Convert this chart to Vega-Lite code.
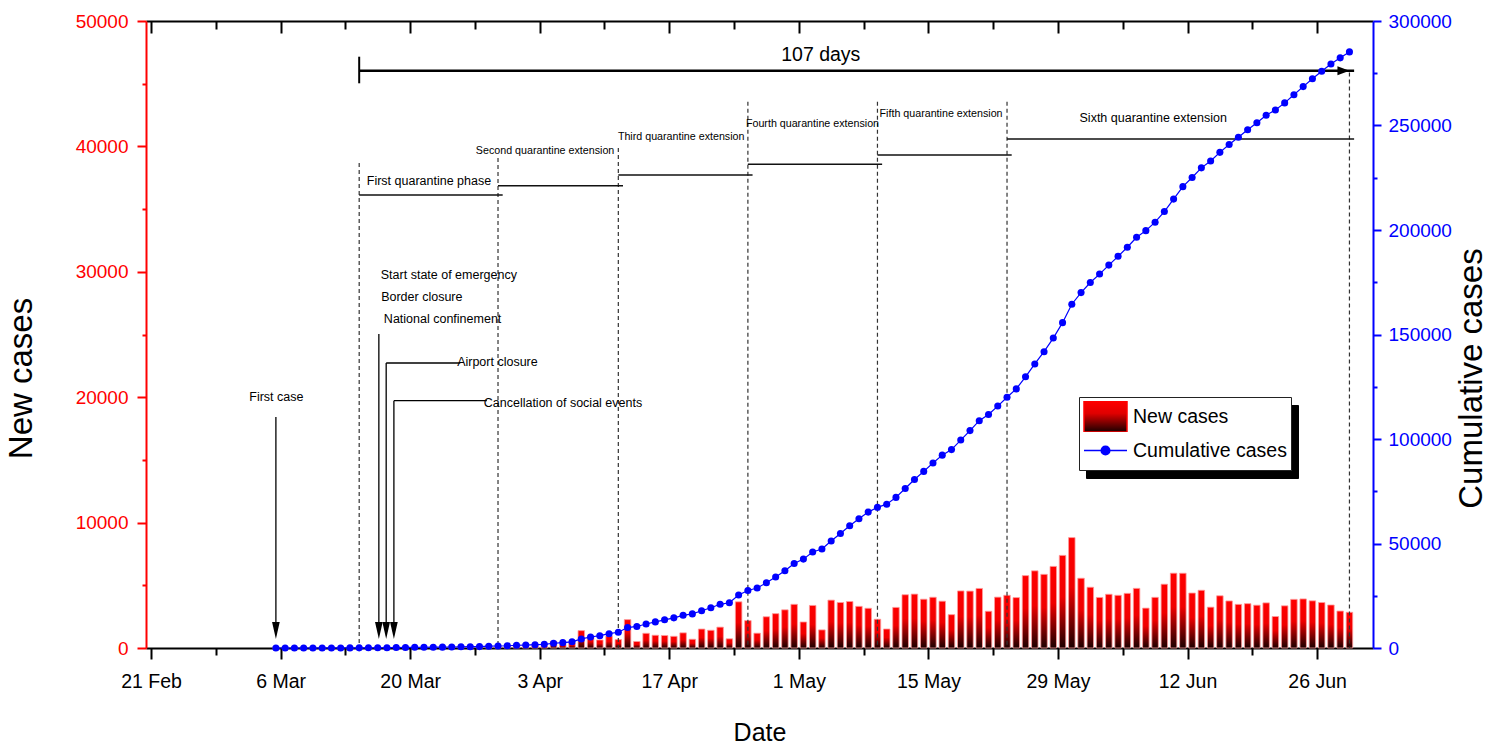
{
  "$schema": "https://vega.github.io/schema/vega-lite/v6.json",
  "width": 1227,
  "height": 627,
  "autosize": {"type": "none"},
  "padding": {"left": 146, "top": 21, "right": 114, "bottom": 101},
  "background": "white",
  "config": {
    "view": {"stroke": null},
    "font": "Liberation Sans, Arial, sans-serif",
    "axis": {"grid": false, "labelOverlap": false, "labelFlush": false, "zindex": 1, "labelFont": "Liberation Sans, Arial, sans-serif"},
    "legend": {"labelFont": "Liberation Sans, Arial, sans-serif", "labelFontSize": 19.5, "labelColor": "black", "labelLimit": 0}
  },
  "datasets": {
    "covid": [
      {"date":"2020-03-06T00:00","new":1,"cum":1},
      {"date":"2020-03-07T00:00","new":5,"cum":6},
      {"date":"2020-03-08T00:00","new":1,"cum":7},
      {"date":"2020-03-09T00:00","new":2,"cum":9},
      {"date":"2020-03-10T00:00","new":2,"cum":11},
      {"date":"2020-03-11T00:00","new":6,"cum":17},
      {"date":"2020-03-12T00:00","new":5,"cum":22},
      {"date":"2020-03-13T00:00","new":16,"cum":38},
      {"date":"2020-03-14T00:00","new":5,"cum":43},
      {"date":"2020-03-15T00:00","new":28,"cum":71},
      {"date":"2020-03-16T00:00","new":15,"cum":86},
      {"date":"2020-03-17T00:00","new":31,"cum":117},
      {"date":"2020-03-18T00:00","new":28,"cum":145},
      {"date":"2020-03-19T00:00","new":89,"cum":234},
      {"date":"2020-03-20T00:00","new":29,"cum":263},
      {"date":"2020-03-21T00:00","new":55,"cum":318},
      {"date":"2020-03-22T00:00","new":45,"cum":363},
      {"date":"2020-03-23T00:00","new":32,"cum":395},
      {"date":"2020-03-24T00:00","new":21,"cum":416},
      {"date":"2020-03-25T00:00","new":64,"cum":480},
      {"date":"2020-03-26T00:00","new":100,"cum":580},
      {"date":"2020-03-27T00:00","new":55,"cum":635},
      {"date":"2020-03-28T00:00","new":36,"cum":671},
      {"date":"2020-03-29T00:00","new":181,"cum":852},
      {"date":"2020-03-30T00:00","new":98,"cum":950},
      {"date":"2020-03-31T00:00","new":115,"cum":1065},
      {"date":"2020-04-01T00:00","new":258,"cum":1323},
      {"date":"2020-04-02T00:00","new":91,"cum":1414},
      {"date":"2020-04-03T00:00","new":181,"cum":1595},
      {"date":"2020-04-04T00:00","new":151,"cum":1746},
      {"date":"2020-04-05T00:00","new":535,"cum":2281},
      {"date":"2020-04-06T00:00","new":280,"cum":2561},
      {"date":"2020-04-07T00:00","new":393,"cum":2954},
      {"date":"2020-04-08T00:00","new":1388,"cum":4342},
      {"date":"2020-04-09T00:00","new":914,"cum":5256},
      {"date":"2020-04-10T00:00","new":641,"cum":5897},
      {"date":"2020-04-11T00:00","new":951,"cum":6848},
      {"date":"2020-04-12T00:00","new":671,"cum":7519},
      {"date":"2020-04-13T00:00","new":2265,"cum":9784},
      {"date":"2020-04-14T00:00","new":519,"cum":10303},
      {"date":"2020-04-15T00:00","new":1172,"cum":11475},
      {"date":"2020-04-16T00:00","new":1016,"cum":12491},
      {"date":"2020-04-17T00:00","new":998,"cum":13489},
      {"date":"2020-04-18T00:00","new":931,"cum":14420},
      {"date":"2020-04-19T00:00","new":1208,"cum":15628},
      {"date":"2020-04-20T00:00","new":697,"cum":16325},
      {"date":"2020-04-21T00:00","new":1512,"cum":17837},
      {"date":"2020-04-22T00:00","new":1413,"cum":19250},
      {"date":"2020-04-23T00:00","new":1664,"cum":20914},
      {"date":"2020-04-24T00:00","new":734,"cum":21648},
      {"date":"2020-04-25T00:00","new":3683,"cum":25331},
      {"date":"2020-04-26T00:00","new":2186,"cum":27517},
      {"date":"2020-04-27T00:00","new":1182,"cum":28699},
      {"date":"2020-04-28T00:00","new":2491,"cum":31190},
      {"date":"2020-04-29T00:00","new":2741,"cum":33931},
      {"date":"2020-04-30T00:00","new":3045,"cum":36976},
      {"date":"2020-05-01T00:00","new":3483,"cum":40459},
      {"date":"2020-05-02T00:00","new":2075,"cum":42534},
      {"date":"2020-05-03T00:00","new":3394,"cum":45928},
      {"date":"2020-05-04T00:00","new":1444,"cum":47372},
      {"date":"2020-05-05T00:00","new":3817,"cum":51189},
      {"date":"2020-05-06T00:00","new":3628,"cum":54817},
      {"date":"2020-05-07T00:00","new":3709,"cum":58526},
      {"date":"2020-05-08T00:00","new":3321,"cum":61847},
      {"date":"2020-05-09T00:00","new":3168,"cum":65015},
      {"date":"2020-05-10T00:00","new":2292,"cum":67307},
      {"date":"2020-05-11T00:00","new":1515,"cum":68822},
      {"date":"2020-05-12T00:00","new":3237,"cum":72059},
      {"date":"2020-05-13T00:00","new":4247,"cum":76306},
      {"date":"2020-05-14T00:00","new":4298,"cum":80604},
      {"date":"2020-05-15T00:00","new":3891,"cum":84495},
      {"date":"2020-05-16T00:00","new":4046,"cum":88541},
      {"date":"2020-05-17T00:00","new":3732,"cum":92273},
      {"date":"2020-05-18T00:00","new":2660,"cum":94933},
      {"date":"2020-05-19T00:00","new":4550,"cum":99483},
      {"date":"2020-05-20T00:00","new":4537,"cum":104020},
      {"date":"2020-05-21T00:00","new":4749,"cum":108769},
      {"date":"2020-05-22T00:00","new":2929,"cum":111698},
      {"date":"2020-05-23T00:00","new":4056,"cum":115754},
      {"date":"2020-05-24T00:00","new":4205,"cum":119959},
      {"date":"2020-05-25T00:00","new":4020,"cum":123979},
      {"date":"2020-05-26T00:00","new":5772,"cum":129751},
      {"date":"2020-05-27T00:00","new":6154,"cum":135905},
      {"date":"2020-05-28T00:00","new":5874,"cum":141779},
      {"date":"2020-05-29T00:00","new":6506,"cum":148285},
      {"date":"2020-05-30T00:00","new":7386,"cum":155671},
      {"date":"2020-05-31T00:00","new":8805,"cum":164476},
      {"date":"2020-06-01T00:00","new":5563,"cum":170039},
      {"date":"2020-06-02T00:00","new":4845,"cum":174884},
      {"date":"2020-06-03T00:00","new":4030,"cum":178914},
      {"date":"2020-06-04T00:00","new":4284,"cum":183198},
      {"date":"2020-06-05T00:00","new":4202,"cum":187400},
      {"date":"2020-06-06T00:00","new":4358,"cum":191758},
      {"date":"2020-06-07T00:00","new":4757,"cum":196515},
      {"date":"2020-06-08T00:00","new":3181,"cum":199696},
      {"date":"2020-06-09T00:00","new":4040,"cum":203736},
      {"date":"2020-06-10T00:00","new":5087,"cum":208823},
      {"date":"2020-06-11T00:00","new":5965,"cum":214788},
      {"date":"2020-06-12T00:00","new":5961,"cum":220749},
      {"date":"2020-06-13T00:00","new":4383,"cum":225132},
      {"date":"2020-06-14T00:00","new":4604,"cum":229736},
      {"date":"2020-06-15T00:00","new":3256,"cum":232992},
      {"date":"2020-06-16T00:00","new":4164,"cum":237156},
      {"date":"2020-06-17T00:00","new":3752,"cum":240908},
      {"date":"2020-06-18T00:00","new":3480,"cum":244388},
      {"date":"2020-06-19T00:00","new":3537,"cum":247925},
      {"date":"2020-06-20T00:00","new":3413,"cum":251338},
      {"date":"2020-06-21T00:00","new":3598,"cum":254936},
      {"date":"2020-06-22T00:00","new":2511,"cum":257447},
      {"date":"2020-06-23T00:00","new":3363,"cum":260810},
      {"date":"2020-06-24T00:00","new":3879,"cum":264689},
      {"date":"2020-06-25T00:00","new":3913,"cum":268602},
      {"date":"2020-06-26T00:00","new":3762,"cum":272364},
      {"date":"2020-06-27T00:00","new":3625,"cum":275989},
      {"date":"2020-06-28T00:00","new":3430,"cum":279419},
      {"date":"2020-06-29T00:00","new":2946,"cum":282365},
      {"date":"2020-06-30T00:00","new":2848,"cum":285213}
    ],
    "qlines": [
      {"d":"2020-03-15T00:00","top":38676},
      {"d":"2020-03-30T00:00","top":39075},
      {"d":"2020-04-12T00:00","top":39872},
      {"d":"2020-04-26T00:00","top":43565},
      {"d":"2020-05-10T00:00","top":43565},
      {"d":"2020-05-24T00:00","top":43565},
      {"d":"2020-06-30T00:00","top":45900}
    ],
    "phases": [
      {"start":"2020-03-15T00:00","end":"2020-03-30T00:00","y":36124},
      {"start":"2020-03-30T00:00","end":"2020-04-12T00:00","y":36866},
      {"start":"2020-04-12T00:00","end":"2020-04-26T00:00","y":37719},
      {"start":"2020-04-26T00:00","end":"2020-05-10T00:00","y":38573},
      {"start":"2020-05-10T00:00","end":"2020-05-24T00:00","y":39314},
      {"start":"2020-05-24T00:00","end":"2020-06-30T00:00","y":40590}
    ],
    "plabelsA": [
      {"d":"2020-03-22T13:00","y":37241,"label":"First quarantine phase"},
      {"d":"2020-06-08T19:00","y":42265,"label":"Sixth quarantine extension"}
    ],
    "plabelsB": [
      {"d":"2020-04-04T02:00","y":39657,"label":"Second quarantine extension"},
      {"d":"2020-04-18T19:00","y":40774,"label":"Third quarantine extension"},
      {"d":"2020-05-02T23:30","y":41786,"label":"Fourth quarantine extension"},
      {"d":"2020-05-16T21:00","y":42584,"label":"Fifth quarantine extension"}
    ],
    "arrows": [
      {"d":"2020-03-06T00:00","top":18421},
      {"d":"2020-03-17T03:00","top":25040},
      {"d":"2020-03-17T22:00","top":22727},
      {"d":"2020-03-18T18:00","top":19721}
    ],
    "connectors": [
      {"d":"2020-03-17T22:00","end":"2020-03-25T10:00","y":22727},
      {"d":"2020-03-18T18:00","end":"2020-03-28T07:00","y":19721}
    ],
    "elabels": [
      {"d":"2020-03-03T03:00","y":20016,"label":"First case"},
      {"d":"2020-03-17T08:00","y":29745,"label":"Start state of emergency"},
      {"d":"2020-03-17T09:00","y":28015,"label":"Border closure"},
      {"d":"2020-03-17T16:00","y":26236,"label":"National confinement"},
      {"d":"2020-03-25T14:00","y":22807,"label":"Airport closure"},
      {"d":"2020-03-28T11:00","y":19538,"label":"Cancellation of social events"}
    ],
    "span": [
      {"start":"2020-03-15T00:00","end":"2020-06-30T00:00","y":46037,"ylo":45032,"yhi":47153}
    ],
    "spanlabel": [
      {"d":"2020-05-03T21:00","y":47289,"label":"107 days"}
    ]
  },
  "layer": [
    {
      "resolve": {"axis": {"x": "independent", "y": "independent"}},
      "layer": [
        {
          "data": {"name": "covid"},
          "mark": {"type": "bar", "size": 6.5, "xOffset": -4.67,
            "fill": {"gradient": "linear", "x1": 0, "y1": 0, "x2": 0, "y2": 1,
              "stops": [{"offset": 0, "color": "#ff0000"}, {"offset": 0.45, "color": "#f00000"}, {"offset": 1, "color": "#1a0000"}]},
            "stroke": "#ff9a9a", "strokeWidth": 0.8},
          "encoding": {
            "x": {"field": "date", "type": "temporal",
              "scale": {"domain": [{"year":2020,"month":2,"date":21},{"year":2020,"month":7,"date":1,"hours":12}]},
              "axis": {"orient": "bottom",
                "values": [{"year":2020,"month":2,"date":21},{"year":2020,"month":3,"date":6},{"year":2020,"month":3,"date":20},{"year":2020,"month":4,"date":3},{"year":2020,"month":4,"date":17},{"year":2020,"month":5,"date":1},{"year":2020,"month":5,"date":15},{"year":2020,"month":5,"date":29},{"year":2020,"month":6,"date":12},{"year":2020,"month":6,"date":26}],
                "format": "%-d %b", "tickSize": 11, "tickWidth": 2, "tickColor": "black",
                "domainColor": "black", "domainWidth": 2,
                "labelFontSize": 19.5, "labelColor": "black", "labelPadding": 13,
                "title": "Date", "titleFont": "Liberation Sans, Arial, sans-serif", "titleFontSize": 25, "titleFontWeight": "normal", "titleColor": "black",
                "titleY": 92, "titleBaseline": "alphabetic"}},
            "y": {"field": "new", "type": "quantitative",
              "scale": {"domain": [0, 50000]},
              "axis": {"orient": "left", "values": [0, 10000, 20000, 30000, 40000, 50000], "format": "d",
                "tickSize": 9, "tickWidth": 2, "tickColor": "#ff0000",
                "domainColor": "#ff0000", "domainWidth": 2,
                "labelColor": "#ff0000", "labelFontSize": 19, "labelPadding": 9,
                "title": "New cases", "titleFont": "Liberation Sans, Arial, sans-serif", "titleFontSize": 33,
                "titleFontWeight": "normal", "titleColor": "black",
                "titleX": -125, "titleY": 357, "titleAngle": -90, "titleBaseline": "middle", "titleAlign": "center"}}
          }
        },
        {
          "data": {"name": "qlines"},
          "mark": {"type": "rule", "xOffset": -4.67, "strokeDash": [4, 3], "color": "#333333", "strokeWidth": 1.2},
          "encoding": {
            "x": {"field": "d", "type": "temporal",
              "scale": {"domain": [{"year":2020,"month":2,"date":21},{"year":2020,"month":7,"date":1,"hours":12}]},
              "axis": {"orient": "bottom",
                "values": [{"year":2020,"month":2,"date":28},{"year":2020,"month":3,"date":13},{"year":2020,"month":3,"date":27},{"year":2020,"month":4,"date":10},{"year":2020,"month":4,"date":24},{"year":2020,"month":5,"date":8},{"year":2020,"month":5,"date":22},{"year":2020,"month":6,"date":5},{"year":2020,"month":6,"date":19}],
                "tickSize": 7, "tickWidth": 2, "tickColor": "black", "labels": false, "domain": false, "title": null}},
            "y": {"field": "top", "type": "quantitative", "scale": {"domain": [0, 50000]},
              "axis": {"orient": "left", "values": [5000, 15000, 25000, 35000, 45000],
                "tickSize": 4, "tickWidth": 2, "tickColor": "#ff0000", "labels": false, "domain": false, "title": null}},
            "y2": {"datum": 0}
          }
        },
        {
          "data": {"name": "phases"},
          "mark": {"type": "rule", "xOffset": -4.67, "color": "#111111", "strokeWidth": 1.5},
          "encoding": {
            "x": {"field": "start", "type": "temporal",
              "scale": {"domain": [{"year":2020,"month":2,"date":21},{"year":2020,"month":7,"date":1,"hours":12}]},
              "axis": {"orient": "bottom", "offset": -627,
                "values": [{"year":2020,"month":2,"date":21},{"year":2020,"month":3,"date":6},{"year":2020,"month":3,"date":20},{"year":2020,"month":4,"date":3},{"year":2020,"month":4,"date":17},{"year":2020,"month":5,"date":1},{"year":2020,"month":5,"date":15},{"year":2020,"month":5,"date":29},{"year":2020,"month":6,"date":12},{"year":2020,"month":6,"date":26}],
                "tickSize": 12, "tickWidth": 2, "tickColor": "black", "labels": false,
                "domainColor": "black", "domainWidth": 2, "title": null}},
            "x2": {"field": "end"},
            "y": {"field": "y", "type": "quantitative", "scale": {"domain": [0, 50000]}, "axis": null}
          }
        },
        {
          "data": {"name": "plabelsA"},
          "mark": {"type": "text", "xOffset": -4.67, "fontSize": 12.5, "align": "center", "baseline": "middle", "color": "black"},
          "encoding": {
            "x": {"field": "d", "type": "temporal",
              "scale": {"domain": [{"year":2020,"month":2,"date":21},{"year":2020,"month":7,"date":1,"hours":12}]},
              "axis": {"orient": "bottom", "offset": -627,
                "values": [{"year":2020,"month":2,"date":28},{"year":2020,"month":3,"date":13},{"year":2020,"month":3,"date":27},{"year":2020,"month":4,"date":10},{"year":2020,"month":4,"date":24},{"year":2020,"month":5,"date":8},{"year":2020,"month":5,"date":22},{"year":2020,"month":6,"date":5},{"year":2020,"month":6,"date":19}],
                "tickSize": 8, "tickWidth": 2, "tickColor": "black", "labels": false, "domain": false, "title": null}},
            "y": {"field": "y", "type": "quantitative", "scale": {"domain": [0, 50000]}, "axis": null},
            "text": {"field": "label"}
          }
        },
        {
          "data": {"name": "plabelsB"},
          "mark": {"type": "text", "xOffset": -4.67, "fontSize": 10.7, "align": "center", "baseline": "middle", "color": "black"},
          "encoding": {
            "x": {"field": "d", "type": "temporal", "scale": {"domain": [{"year":2020,"month":2,"date":21},{"year":2020,"month":7,"date":1,"hours":12}]}, "axis": null},
            "y": {"field": "y", "type": "quantitative", "scale": {"domain": [0, 50000]}, "axis": null},
            "text": {"field": "label"}
          }
        },
        {
          "data": {"name": "arrows"},
          "mark": {"type": "rule", "xOffset": -4.67, "color": "black", "strokeWidth": 1.3},
          "encoding": {
            "x": {"field": "d", "type": "temporal", "scale": {"domain": [{"year":2020,"month":2,"date":21},{"year":2020,"month":7,"date":1,"hours":12}]}, "axis": null},
            "y": {"field": "top", "type": "quantitative", "scale": {"domain": [0, 50000]}, "axis": null},
            "y2": {"datum": 1396}
          }
        },
        {
          "data": {"name": "arrows"},
          "mark": {"type": "point", "xOffset": -4.67, "shape": "M-0.45,-1L0.45,-1L0,1Z", "size": 289, "filled": true, "color": "black", "opacity": 1},
          "encoding": {
            "x": {"field": "d", "type": "temporal", "scale": {"domain": [{"year":2020,"month":2,"date":21},{"year":2020,"month":7,"date":1,"hours":12}]}, "axis": null},
            "y": {"datum": 1396, "type": "quantitative", "scale": {"domain": [0, 50000]}, "axis": null}
          }
        },
        {
          "data": {"name": "connectors"},
          "mark": {"type": "rule", "xOffset": -4.67, "color": "black", "strokeWidth": 1.3},
          "encoding": {
            "x": {"field": "d", "type": "temporal", "scale": {"domain": [{"year":2020,"month":2,"date":21},{"year":2020,"month":7,"date":1,"hours":12}]}, "axis": null},
            "x2": {"field": "end"},
            "y": {"field": "y", "type": "quantitative", "scale": {"domain": [0, 50000]}, "axis": null}
          }
        },
        {
          "data": {"name": "elabels"},
          "mark": {"type": "text", "xOffset": -4.67, "fontSize": 12.5, "align": "left", "baseline": "middle", "color": "black"},
          "encoding": {
            "x": {"field": "d", "type": "temporal", "scale": {"domain": [{"year":2020,"month":2,"date":21},{"year":2020,"month":7,"date":1,"hours":12}]}, "axis": null},
            "y": {"field": "y", "type": "quantitative", "scale": {"domain": [0, 50000]}, "axis": null},
            "text": {"field": "label"}
          }
        },
        {
          "data": {"name": "span"},
          "mark": {"type": "rule", "xOffset": -4.67, "color": "black", "strokeWidth": 2.5},
          "encoding": {
            "x": {"field": "start", "type": "temporal", "scale": {"domain": [{"year":2020,"month":2,"date":21},{"year":2020,"month":7,"date":1,"hours":12}]}, "axis": null},
            "x2": {"field": "end"},
            "y": {"field": "y", "type": "quantitative", "scale": {"domain": [0, 50000]}, "axis": null}
          }
        },
        {
          "data": {"name": "span"},
          "mark": {"type": "rule", "xOffset": -4.67, "color": "black", "strokeWidth": 2},
          "encoding": {
            "x": {"field": "start", "type": "temporal", "scale": {"domain": [{"year":2020,"month":2,"date":21},{"year":2020,"month":7,"date":1,"hours":12}]}, "axis": null},
            "y": {"field": "ylo", "type": "quantitative", "scale": {"domain": [0, 50000]}, "axis": null},
            "y2": {"field": "yhi"}
          }
        },
        {
          "data": {"name": "span"},
          "mark": {"type": "point", "xOffset": -10.67, "shape": "M-1,-0.75L1,0L-1,0.75Z", "size": 144, "filled": true, "color": "black", "opacity": 1},
          "encoding": {
            "x": {"field": "end", "type": "temporal", "scale": {"domain": [{"year":2020,"month":2,"date":21},{"year":2020,"month":7,"date":1,"hours":12}]}, "axis": null},
            "y": {"field": "y", "type": "quantitative", "scale": {"domain": [0, 50000]}, "axis": null}
          }
        },
        {
          "data": {"name": "spanlabel"},
          "mark": {"type": "text", "xOffset": -4.67, "fontSize": 19.5, "align": "center", "baseline": "middle", "color": "black"},
          "encoding": {
            "x": {"field": "d", "type": "temporal", "scale": {"domain": [{"year":2020,"month":2,"date":21},{"year":2020,"month":7,"date":1,"hours":12}]}, "axis": null},
            "y": {"field": "y", "type": "quantitative", "scale": {"domain": [0, 50000]}, "axis": null},
            "text": {"field": "label"}
          }
        }
      ]
    },
    {
      "resolve": {"axis": {"y": "independent"}},
      "layer": [
        {
          "data": {"name": "covid"},
          "mark": {"type": "line", "xOffset": -4.67, "strokeWidth": 1.2},
          "encoding": {
            "x": {"field": "date", "type": "temporal", "scale": {"domain": [{"year":2020,"month":2,"date":21},{"year":2020,"month":7,"date":1,"hours":12}]}, "axis": null},
            "y": {"field": "cum", "type": "quantitative", "scale": {"domain": [0, 300000]},
              "axis": {"orient": "right", "values": [0, 50000, 100000, 150000, 200000, 250000, 300000], "format": "d",
                "tickSize": 8, "tickWidth": 2, "tickColor": "#0000ff",
                "domainColor": "#0000ff", "domainWidth": 2,
                "labelColor": "#0000ff", "labelFontSize": 19, "labelPadding": 7,
                "title": "Cumulative cases", "titleFont": "Liberation Sans, Arial, sans-serif", "titleFontSize": 33,
                "titleFontWeight": "normal", "titleColor": "black",
                "titleX": 98, "titleY": 357, "titleAngle": 270, "titleBaseline": "middle", "titleAlign": "center"}},
            "color": {"datum": "Cumulative cases",
              "scale": {"domain": ["New cases", "Cumulative cases"], "range": ["#ff0000", "#0000ff"]},
              "legend": {"title": null, "orient": "none", "legendX": 933, "legendY": 376, "zindex": 2,
                "symbolSize": 1849, "clipHeight": 31, "symbolStrokeWidth": 1.5, "labelOffset": 5, "padding": 4, "rowPadding": 3,
                "strokeColor": "#222222", "fillColor": "white",
                "encoding": {
                  "symbols": {
                    "shape": {"condition": {"test": "datum.value === 'New cases'", "value": "M-1,-0.72H1V0.72H-1Z"}, "value": "M-1,0H1M-0.2,0A0.2,0.2,0,1,1,0.2,0A0.2,0.2,0,1,1,-0.2,0Z"},
                    "fill": {"condition": {"test": "datum.value === 'New cases'", "value": {"gradient": "linear", "x1": 0, "y1": 0, "x2": 0, "y2": 1, "stops": [{"offset": 0, "color": "#ff0000"}, {"offset": 0.4, "color": "#e00000"}, {"offset": 1, "color": "#1a0000"}]}}, "value": "#0000ff"},
                    "stroke": {"condition": {"test": "datum.value === 'New cases'", "value": "#ff5050"}, "value": "#0000ff"},
                    "strokeWidth": {"value": 1.5},
                    "opacity": {"value": 1}
                  }
                }}}
          }
        },
        {
          "data": {"name": "covid"},
          "mark": {"type": "point", "xOffset": -4.67, "filled": true, "size": 50, "color": "#0000ff"},
          "encoding": {
            "x": {"field": "date", "type": "temporal", "scale": {"domain": [{"year":2020,"month":2,"date":21},{"year":2020,"month":7,"date":1,"hours":12}]}, "axis": null},
            "y": {"field": "cum", "type": "quantitative", "scale": {"domain": [0, 300000]},
              "axis": {"orient": "right", "values": [25000, 75000, 125000, 175000, 225000, 275000],
                "tickSize": 4, "tickWidth": 2, "tickColor": "#0000ff", "labels": false, "domain": false, "title": null}},
            "opacity": {"datum": "s2",
              "scale": {"domain": ["s1", "s2"], "range": [1, 1]},
              "legend": {"title": null, "orient": "none", "legendX": 940, "legendY": 384, "zindex": 0,
                "symbolSize": 1849, "clipHeight": 31, "labelOffset": 159, "padding": 4, "rowPadding": 3,
                "labelExpr": "''", "symbolFillColor": "black", "symbolStrokeColor": "black",
                "strokeColor": "black", "fillColor": "black",
                "encoding": {"symbols": {"fill": {"value": "black"}, "stroke": {"value": "black"}, "opacity": {"value": 0}}, "labels": {"opacity": {"value": 0}}}}}
          }
        }
      ]
    }
  ],
  "resolve": {"scale": {"y": "independent"}, "axis": {"x": "independent", "y": "independent"}}
}
